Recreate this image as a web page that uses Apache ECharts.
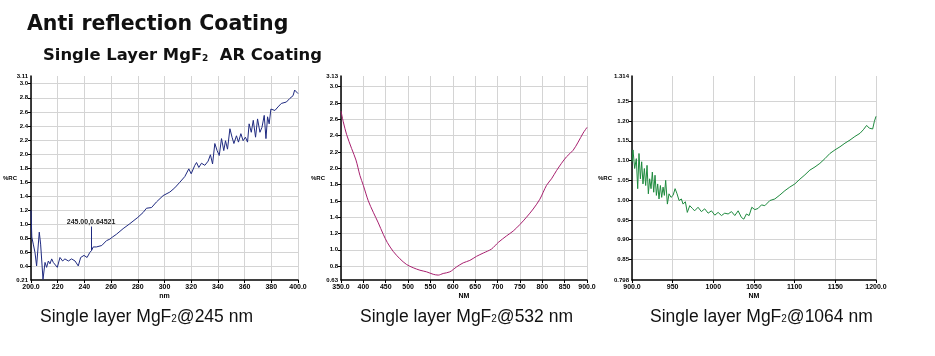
<!DOCTYPE html>
<html>
<head>
<meta charset="utf-8">
<script src="https://cdn.jsdelivr.net/npm/echarts@6/dist/echarts.min.js"></script>
<style>html,body{margin:0;padding:0;background:#fff}#c{width:935px;height:356px}</style>
</head>
<body>
<div id="c"></div>
<script>
// ---- Chart 1: 245 nm ----
const wl245 = [200,200.6,201.7,203,204.2,206.2,207.2,209,210.5,211.7,213,214.2,215.5,216.7,218,219.7,221.7,223.7,225.4,228,230.4,233,235.4,237.2,239.7,242,244,245.4,246.6,249,253,256.6,259,261,264,269,274,280,284,286.5,290.3,294,299,304,307.7,311.5,315.2,318.2,320,322.7,324,325.7,327.7,330.2,332.7,334.4,336,337.7,339.4,341,342.7,344.4,345.7,347.2,349,350.6,352,353.9,355.4,357.2,358.9,360.6,362.2,363.4,365,366.5,368.2,369.7,371.5,373,374.7,376,377.2,378.4,379.7,382.7,385,387.5,391.3,393.8,396.3,397.5,400];
const rc245 = [1.20,0.82,0.72,0.60,0.41,0.89,0.72,0.22,0.46,0.39,0.48,0.44,0.51,0.46,0.48,0.39,0.53,0.48,0.51,0.48,0.51,0.48,0.41,0.53,0.56,0.53,0.60,0.63,0.68,0.68,0.70,0.77,0.79,0.82,0.86,0.94,1.01,1.10,1.17,1.23,1.24,1.32,1.41,1.46,1.52,1.60,1.68,1.79,1.72,1.84,1.88,1.81,1.87,1.84,1.90,1.99,1.86,2.15,2.05,1.98,2.22,2.05,2.19,2.07,2.36,2.24,2.15,2.26,2.17,2.29,2.19,2.24,2.17,2.43,2.31,2.48,2.24,2.50,2.31,2.38,2.55,2.22,2.53,2.43,2.64,2.62,2.67,2.72,2.74,2.79,2.83,2.91,2.86];
const xLabels1 = ['200.0','220','240','260','280','300','320','340','360','380','400.0'];
const yLabels1 = ['0.21','0.4','0.6','0.8','1.0','1.2','1.4','1.6','1.8','2.0','2.2','2.4','2.6','2.8','3.0','3.11'];
const marker245 = {x:245, yLow:0.63, yHigh:0.97, text:'245.00,0.64521'};

// ---- Chart 2: 532 nm ----
const wl532 = [350,355,362.7,373.8,383.5,392.4,399.9,411,422.2,433.4,444.5,453.5,466.8,481.7,496.6,511.5,526.4,541.3,556.2,567.3,578.5,593.4,608.3,623.2,638,653,668,686.6,701.5,720,735,750,764.8,779.7,794.6,809.5,820.6,831.8,843,854.2,869,880.2,891.3,900];
const rc532 = [2.70,2.57,2.41,2.24,2.10,1.91,1.79,1.60,1.46,1.33,1.19,1.09,0.98,0.89,0.82,0.78,0.75,0.73,0.70,0.69,0.71,0.73,0.79,0.84,0.87,0.92,0.96,1.01,1.09,1.17,1.23,1.31,1.40,1.50,1.62,1.79,1.87,1.97,2.06,2.14,2.22,2.32,2.43,2.50];
const xLabels2 = ['350.0','400','450','500','550','600','650','700','750','800','850','900.0'];
const yLabels2 = ['0.63','0.8','1.0','1.2','1.4','1.6','1.8','2.0','2.2','2.4','2.6','2.8','3.0','3.13'];

// ---- Chart 3: 1064 nm ----
const wl1064 = [900,901.2,903.3,905.3,907,908.6,910.3,911.9,913.5,915.2,916.8,918.5,920.1,921.7,923.4,925,926.7,928.3,930,931.6,933.2,934.9,936.5,938.2,939.8,941.4,943.5,945.5,948,950.5,953,955.4,957.9,960.7,962.8,965.6,968,971,974.3,977,981.2,985.3,989.4,993.6,997.7,1001.8,1005.9,1010,1014,1018.2,1022.3,1026.4,1030.5,1034.6,1037.5,1040.7,1044,1047.3,1051,1055,1059.2,1063.3,1069.5,1075.6,1081.8,1088,1094,1100.2,1106.4,1112.6,1118.7,1125,1131,1137.2,1143.3,1149.5,1155.7,1161.8,1168,1174,1180.3,1184.4,1188.5,1191.8,1195.9,1198,1200];
const rc1064 = [1.097,1.127,1.080,1.105,1.029,1.118,1.054,1.097,1.041,1.080,1.037,1.088,1.016,1.054,1.029,1.071,1.020,1.063,1.012,1.041,1.003,1.037,1.007,1.033,1.012,1.050,0.990,1.016,1.007,1.012,1.029,1.016,0.999,1.003,0.990,0.996,0.969,0.986,0.979,0.973,0.982,0.971,0.978,0.967,0.973,0.962,0.969,0.961,0.967,0.965,0.971,0.961,0.973,0.956,0.952,0.965,0.961,0.982,0.976,0.979,0.988,0.986,0.999,1.003,1.013,1.024,1.033,1.041,1.053,1.064,1.076,1.084,1.093,1.105,1.118,1.127,1.135,1.144,1.152,1.161,1.169,1.178,1.189,1.182,1.180,1.199,1.212];
const xLabels3 = ['900.0','950','1000','1050','1100','1150','1200.0'];
const yLabels3 = ['0.798','0.85','0.90','0.95','1.00','1.05','1.10','1.15','1.20','1.25','1.314'];

const FONT = '"Liberation Sans", Arial, sans-serif';
const TFONT = '"DejaVu Sans", "Liberation Sans", Arial, sans-serif';
const zip = (a, b) => a.map((v, i) => [v, b[i]]);

function xAxisCfg(idx, labels, name) {
  const vals = labels.map(Number);
  return {
    type: 'value', gridIndex: idx, min: vals[0], max: vals[vals.length - 1],
    name, nameLocation: 'middle', nameGap: 13, nameMoveOverlap: false,
    nameTextStyle: {fontSize: 7, fontWeight: 'bold', color: '#000', fontFamily: FONT},
    axisLine: {show: true, onZero: false, lineStyle: {color: '#000', width: 1.5}},
    axisTick: {show: true, length: 3, customValues: vals, lineStyle: {color: '#000'}},
    axisLabel: {fontSize: 7, fontWeight: 'bold', color: '#000', fontFamily: FONT, margin: 4,
      customValues: vals, hideOverlap: false,
      formatter: v => { const i = vals.indexOf(v); return i >= 0 ? labels[i] : ''; }},
    splitLine: {show: true, lineStyle: {color: '#d4d4d4', width: 1}},
    minorTick: {show: false}, minorSplitLine: {show: false}
  };
}
function yAxisCfg(idx, labels, nameGap) {
  const vals = labels.map(Number);
  const inner = vals.slice(1, -1);
  return {
    type: 'value', gridIndex: idx, min: vals[0], max: vals[vals.length - 1],
    name: '%RC', nameLocation: 'middle', nameGap, nameRotate: 0, nameMoveOverlap: false,
    nameTextStyle: {fontSize: 6, fontWeight: 'bold', color: '#000', fontFamily: FONT},
    axisLine: {show: true, lineStyle: {color: '#000', width: 1.5}},
    axisTick: {show: true, length: 3, customValues: inner, lineStyle: {color: '#000'}},
    axisLabel: {fontSize: 6, fontWeight: 'bold', color: '#000', fontFamily: FONT, margin: 3,
      customValues: vals, hideOverlap: false,
      formatter: v => { const i = vals.indexOf(v); return i >= 0 ? labels[i] : ''; }},
    splitLine: {show: true, lineStyle: {color: '#d4d4d4', width: 1}}
  };
}

const capStyle = {fontSize: 17.5, fontWeight: 'normal', color: '#111', fontFamily: FONT,
  rich: {s: {fontSize: 10, fontWeight: 'normal', color: '#111', fontFamily: FONT, padding: [5, 0, 0, 0]}}};

const option = {
  animation: false,
  backgroundColor: '#fff',
  title: [
    {text: 'Anti reflection Coating', left: 27, top: 14, padding: 0,
      textStyle: {fontSize: 20.5, fontWeight: 'bold', color: '#111', fontFamily: TFONT}},
    {text: 'Single Layer MgF{s|2}  AR Coating', left: 43, top: 48, padding: 0,
      textStyle: {fontSize: 16.4, fontWeight: 'bold', color: '#111', fontFamily: TFONT,
        rich: {s: {fontSize: 9, fontWeight: 'bold', color: '#111', fontFamily: TFONT, padding: [6, 0, 0, 0]}}}},
    {text: 'Single layer MgF{s|2}@245 nm', left: 40, top: 308, padding: 0, textStyle: capStyle},
    {text: 'Single layer MgF{s|2}@532 nm', left: 360, top: 308, padding: 0, textStyle: capStyle},
    {text: 'Single layer MgF{s|2}@1064 nm', left: 650, top: 308, padding: 0, textStyle: capStyle}
  ],
  grid: [
    {left: 31, top: 76, width: 267, height: 204, outerBoundsMode: 'none', containLabel: false},
    {left: 341, top: 76, width: 246, height: 204, outerBoundsMode: 'none', containLabel: false},
    {left: 632, top: 76, width: 244, height: 204, outerBoundsMode: 'none', containLabel: false}
  ],
  xAxis: [
    xAxisCfg(0, xLabels1, 'nm'),
    xAxisCfg(1, xLabels2, 'NM'),
    xAxisCfg(2, xLabels3, 'NM')
  ],
  yAxis: [
    yAxisCfg(0, yLabels1, 14),
    yAxisCfg(1, yLabels2, 16),
    yAxisCfg(2, yLabels3, 20)
  ],
  series: [
    {type: 'line', xAxisIndex: 0, yAxisIndex: 0, data: zip(wl245, rc245), symbol: 'none',
      lineStyle: {color: '#1f2a80', width: 1}, silent: true,
      markLine: {silent: true, symbol: 'none', animation: false,
        lineStyle: {color: '#1f2a80', width: 1, type: 'solid'},
        label: {show: true, position: 'end', distance: 1, formatter: marker245.text,
          fontSize: 7, fontWeight: 'bold', color: '#222', fontFamily: FONT},
        data: [[{coord: [marker245.x, marker245.yLow]}, {coord: [marker245.x, marker245.yHigh]}]]}},
    {type: 'line', xAxisIndex: 1, yAxisIndex: 1, data: zip(wl532, rc532), symbol: 'none', smooth: 0.3,
      lineStyle: {color: '#a8206f', width: 1}, silent: true},
    {type: 'line', xAxisIndex: 2, yAxisIndex: 2, data: zip(wl1064, rc1064), symbol: 'none',
      lineStyle: {color: '#1e8a3e', width: 1}, silent: true}
  ]
};
const chart = echarts.init(document.getElementById('c'), null, {renderer: 'canvas'});
chart.setOption(option);
</script>
</body>
</html>
